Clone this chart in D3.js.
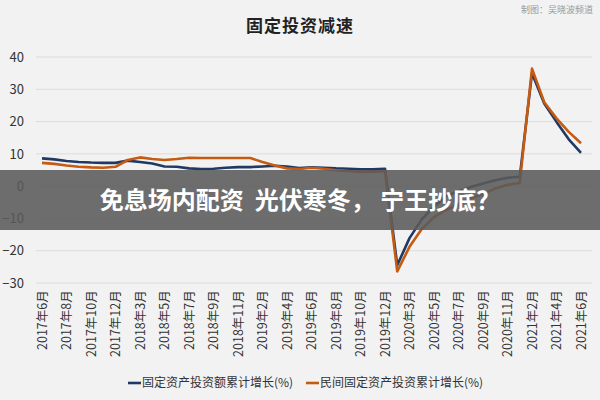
<!DOCTYPE html>
<html><head><meta charset="utf-8">
<script src="https://cdn.jsdelivr.net/npm/d3@7"></script>
<style>body{margin:0;background:#f2f2f2;font-family:"Noto Sans CJK SC",sans-serif}</style>
</head><body><svg width="600" height="400"></svg>
<script>
// categories (no January data published)
const months = [
  "2017年6月","2017年7月","2017年8月","2017年9月","2017年10月","2017年11月","2017年12月",
  "2018年2月","2018年3月","2018年4月","2018年5月","2018年6月","2018年7月","2018年8月","2018年9月","2018年10月","2018年11月","2018年12月",
  "2019年2月","2019年3月","2019年4月","2019年5月","2019年6月","2019年7月","2019年8月","2019年9月","2019年10月","2019年11月","2019年12月",
  "2020年2月","2020年3月","2020年4月","2020年5月","2020年6月","2020年7月","2020年8月","2020年9月","2020年10月","2020年11月","2020年12月",
  "2021年2月","2021年3月","2021年4月","2021年5月","2021年6月"];
const totalGrowth = [8.6,8.3,7.8,7.5,7.3,7.2,7.2,
  7.9,7.5,7.0,6.1,6.0,5.5,5.3,5.4,5.7,5.9,5.9,
  6.1,6.3,6.1,5.6,5.8,5.7,5.5,5.4,5.2,5.2,5.4,
  -24.5,-16.1,-10.3,-6.3,-3.1,-1.6,-0.3,0.8,1.8,2.6,2.9,
  35.0,25.6,19.9,14.5,10.3];
const privateGrowth = [7.2,6.9,6.4,6.0,5.8,5.7,6.0,
  8.1,8.9,8.4,8.1,8.4,8.8,8.7,8.7,8.7,8.7,8.7,
  7.5,6.4,5.5,5.3,5.7,5.4,4.9,4.7,4.4,4.5,4.7,
  -26.4,-18.8,-13.3,-9.6,-7.3,-5.7,-3.7,-2.5,-0.7,0.4,1.0,
  36.4,26.0,21.0,16.8,13.3];
const yTicks = [40,30,20,10,0,-10,-20,-30];
const seriesNames = ["固定资产投资额累计增长(%)","民间固定资产投资累计增长(%)"];
const colors = ["#203864","#c55a11"];

const svg = d3.select("svg");
svg.append("rect").attr("width",600).attr("height",400).attr("fill","#f2f2f2");

const x = d3.scalePoint().domain(months).range([42,581]);
const y = d3.scaleLinear().domain([-30,40]).range([283,57]);

// grid
svg.append("g").selectAll("line").data(yTicks).join("line")
  .attr("x1",36).attr("x2",592).attr("y1",d=>y(d)).attr("y2",d=>y(d))
  .attr("stroke","#dcdcdc").attr("stroke-width",1);

// y axis labels
const ya = svg.append("g").attr("transform","translate(24,0)")
  .call(d3.axisLeft(y).tickValues(yTicks).tickSize(0).tickPadding(0));
ya.select(".domain").remove();
ya.selectAll("text").attr("font-size",13).attr("fill","#333").attr("font-family","Noto Sans CJK SC");

// x axis labels
const xa = svg.append("g").attr("transform","translate(0,289)")
  .call(d3.axisBottom(x).tickValues(months.filter((d,i)=>i%2===0)).tickSize(0));
xa.select(".domain").remove();
xa.selectAll("text").attr("font-size",12.5).attr("fill","#333").attr("font-family","Noto Sans CJK SC")
  .attr("transform","rotate(-90)").attr("text-anchor","end").attr("dx","-0.1em").attr("dy","0.35em")
  .attr("x",0).attr("y",0);

// lines
const line = d3.line().x((d,i)=>x(months[i])).y(d=>y(d));
[totalGrowth,privateGrowth].forEach((s,k)=>{
  svg.append("path").datum(s).attr("d",line).attr("fill","none")
    .attr("stroke",colors[k]).attr("stroke-width",2.6).attr("stroke-linejoin","round");
});

// title & credit
svg.append("text").attr("x",300).attr("y",32).attr("text-anchor","middle")
  .attr("font-size",17).attr("font-weight","bold").attr("fill","#222").attr("letter-spacing",1).text("固定投资减速");
svg.append("text").attr("x",593).attr("y",13).attr("text-anchor","end")
  .attr("font-size",9).attr("fill","#999").text("制图：吴晓波频道");

// legend
const lg = [[128,seriesNames[0]],[306,seriesNames[1]]];
lg.forEach((d,k)=>{
  svg.append("line").attr("x1",d[0]).attr("x2",d[0]+13).attr("y1",383).attr("y2",383)
    .attr("stroke",colors[k]).attr("stroke-width",2.6);
  svg.append("text").attr("x",d[0]+14).attr("y",387).attr("font-size",12).attr("fill","#333").text(d[1]);
});

// overlay banner
svg.append("rect").attr("x",0).attr("y",170).attr("width",600).attr("height",60)
  .attr("fill","#5a5a5a").attr("opacity",0.88);
svg.append("text").attr("x",300).attr("y",209).attr("text-anchor","middle")
  .attr("font-size",24).attr("font-weight","bold").attr("fill","#fff").attr("xml:space","preserve")
  .text("免息场内配资  光伏寒冬， 宁王抄底？");
</script></body></html>
